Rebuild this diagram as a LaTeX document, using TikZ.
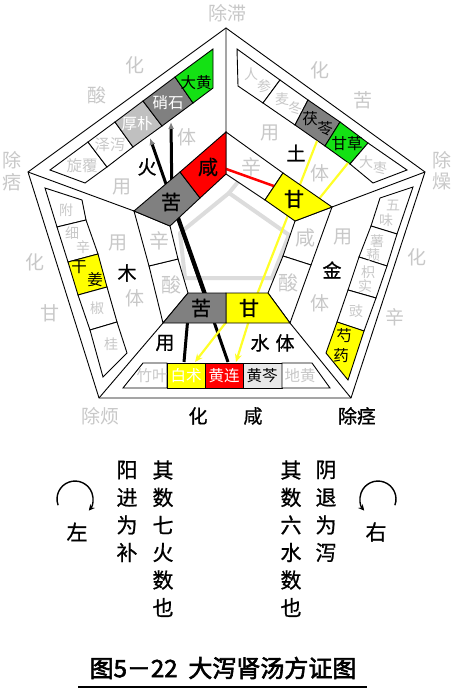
\documentclass[tikz,border=0pt]{standalone}
\usepackage{fontspec}
\setmainfont{Noto Sans CJK SC}
\newfontfamily\titlefont[FakeBold=2.5]{Noto Sans CJK SC}
\newfontfamily\medfont[FakeBold=0.8]{Noto Sans CJK SC}
\usetikzlibrary{arrows.meta}
\definecolor{ltext}{RGB}{200,200,200}
\definecolor{tgray}{RGB}{128,128,128}
\definecolor{tlgray}{RGB}{192,192,192}
\definecolor{tgreen}{RGB}{20,225,20}
\definecolor{tyellow}{RGB}{255,255,0}
\definecolor{tred}{RGB}{255,0,0}
\definecolor{tpale}{RGB}{232,232,232}
\definecolor{yline}{RGB}{255,255,40}
\definecolor{deco}{RGB}{220,220,220}
\newcommand\szL{\fontsize{19}{21}\selectfont}
\newcommand\szT{\fontsize{20}{22}\selectfont}
\newcommand\szH{\fontsize{15.5}{17}\selectfont}
\newcommand\szS{\fontsize{14}{15}\selectfont}
\newcommand\szB{\fontsize{21}{23}\selectfont}
\begin{document}
\begin{tikzpicture}[x=1pt,y=-1pt,
 ln/.style={draw=black,line width=0.9pt},
 blab/.style={inner sep=0pt,font=\medfont\szL,text=black},
 glab/.style={inner sep=0pt,font=\szL,text=ltext},
 tlab/.style={inner sep=0pt,font=\medfont\szT,text=black},
 tglab/.style={inner sep=0pt,font=\szT,text=ltext},
 hb/.style={inner sep=0pt,font=\szH,text=black},
 hg/.style={inner sep=0pt,font=\szH,text=ltext},
 hw/.style={inner sep=0pt,font=\szH,text=white},
 hs/.style={inner sep=0pt,font=\szS,text=ltext},
 hsb/.style={inner sep=0pt,font=\szH,text=black},
 bot/.style={inner sep=0pt,font=\medfont\szB,text=black},
 yl/.style={draw=yline,line width=2.2pt},
 bl/.style={draw=black,line width=3pt},
]
\fill[white] (0,0) rectangle (453,695);
\useasboundingbox (0,0) rectangle (453,695);

% pentagon points
\coordinate (T) at (226,28);  \coordinate (UL) at (28,172); \coordinate (UR) at (425,172);
\coordinate (LL) at (99,398); \coordinate (LR) at (351,398);
\coordinate (MT) at (226,132); \coordinate (ML) at (134,211); \coordinate (MR) at (332,207);
\coordinate (MLL) at (163,323); \coordinate (MLR) at (290,323);
\coordinate (NT) at (226,174); \coordinate (NL) at (170,226); \coordinate (NR) at (295,221);
\coordinate (NLL) at (188,293); \coordinate (NLR) at (268,293);
\coordinate (FbM) at (180,172); \coordinate (FbN) at (200,198);
\coordinate (EbM) at (283,173); \coordinate (EbN) at (265,200);
\coordinate (MbM) at (311,265); \coordinate (MbN) at (283,256);
\coordinate (WbM) at (226,323); \coordinate (WbN) at (226,293);
\coordinate (DbM) at (149,266); \coordinate (DbN) at (178,259);

% centre decoration
\draw[deco,line width=4pt,line join=round] (229,193)--(289,235)--(272,278)--(185,278)--(180,233)--cycle;
\draw[deco,line width=4pt] (229,193)--(246,172);

% outer frame
\draw[ln] (T)--(UR)--(LR)--(LL)--(UL)--cycle;
\draw[ln] (T)--(MT) (UL)--(ML) (UR)--(MR) (LL)--(MLL) (LR)--(MLR);

% fire strip
\coordinate (FO0) at (50,170); \coordinate (FO1) at (88,142); \coordinate (FO2) at (115,122);
\coordinate (FO3) at (143,101); \coordinate (FO4) at (175,77); \coordinate (FO5) at (213,49);
\coordinate (FI0) at (85,183); \coordinate (FI1) at (107,167); \coordinate (FI2) at (133,147);
\coordinate (FI3) at (162,126); \coordinate (FI4) at (193,103); \coordinate (FI5) at (213,88);
\foreach \i/\j/\c in {0/1/white,1/2/white,2/3/tlgray,3/4/tgray,4/5/tgreen}
  \filldraw[ln,fill=\c] (FO\i)--(FO\j)--(FI\j)--(FI\i)--cycle;
% earth strip
\coordinate (EO0) at (237,49); \coordinate (EO1) at (280,80); \coordinate (EO2) at (308,100);
\coordinate (EO3) at (340,122); \coordinate (EO4) at (368,143); \coordinate (EO5) at (407,170);
\coordinate (EI0) at (238,86); \coordinate (EI1) at (263,103); \coordinate (EI2) at (295,125);
\coordinate (EI3) at (325,146); \coordinate (EI4) at (350,164); \coordinate (EI5) at (373,183);
\foreach \i/\j/\c in {0/1/white,1/2/white,2/3/tgray,3/4/tgreen,4/5/white}
  \filldraw[ln,fill=\c] (EO\i)--(EO\j)--(EI\j)--(EI\i)--cycle;
% metal strip
\coordinate (MO0) at (413,187); \coordinate (MO1) at (397,234); \coordinate (MO2) at (387,266);
\coordinate (MO3) at (376,298); \coordinate (MO4) at (364,331); \coordinate (MO5) at (348,380);
\coordinate (MI0) at (380,198); \coordinate (MI1) at (371,226); \coordinate (MI2) at (359,257);
\coordinate (MI3) at (348,290); \coordinate (MI4) at (337,322); \coordinate (MI5) at (326,353);
\foreach \i/\j/\c in {0/1/white,1/2/white,2/3/white,3/4/white,4/5/tyellow}
  \filldraw[ln,fill=\c] (MO\i)--(MO\j)--(MI\j)--(MI\i)--cycle;
% water strip
\coordinate (WO0) at (123,388); \coordinate (WO1) at (167,388); \coordinate (WO2) at (205,388);
\coordinate (WO3) at (243,388); \coordinate (WO4) at (282,388); \coordinate (WO5) at (330,388);
\coordinate (WI0) at (143,363); \coordinate (WI1) at (167,363); \coordinate (WI2) at (205,363);
\coordinate (WI3) at (243,363); \coordinate (WI4) at (282,363); \coordinate (WI5) at (312,363);
\foreach \i/\j/\c in {0/1/white,1/2/tyellow,2/3/tred,3/4/tpale,4/5/white}
  \filldraw[ln,fill=\c] (WO\i)--(WO\j)--(WI\j)--(WI\i)--cycle;
% wood strip
\coordinate (DO0) at (45,188); \coordinate (DO1) at (57,227); \coordinate (DO2) at (68,262);
\coordinate (DO3) at (78,295); \coordinate (DO4) at (90,330); \coordinate (DO5) at (103,377);
\coordinate (DI0) at (82,200); \coordinate (DI1) at (86,220); \coordinate (DI2) at (98,254);
\coordinate (DI3) at (107,287); \coordinate (DI4) at (117,322); \coordinate (DI5) at (127,353);
\foreach \i/\j/\c in {0/1/white,1/2/white,2/3/tyellow,3/4/white,4/5/white}
  \filldraw[ln,fill=\c] (DO\i)--(DO\j)--(DI\j)--(DI\i)--cycle;

% band white cells
\filldraw[ln,fill=white] (MT)--(EbM)--(EbN)--(NT)--cycle;
\filldraw[ln,fill=white] (MR)--(MbM)--(MbN)--(NR)--cycle;
\filldraw[ln,fill=white] (MbM)--(MLR)--(NLR)--(MbN)--cycle;
\filldraw[ln,fill=white] (MLL)--(DbM)--(DbN)--(NLL)--cycle;
\filldraw[ln,fill=white] (DbM)--(ML)--(NL)--(DbN)--cycle;

% connectors
\coordinate (hpTip) at (150,138); \coordinate (hlTop) at (228,362);
\coordinate (mid1) at (177,215); \coordinate (mid2) at (207,300);
\coordinate (xsS) at (172,205); \coordinate (xsTip) at (171,122);
\coordinate (bzS) at (189,305); \coordinate (bzTop) at (184,362);
\coordinate (rS) at (215,165); \coordinate (rE) at (285,190);
\coordinate (flTip) at (317,141); \coordinate (wgC) at (251,310);
\coordinate (gcTip) at (348,163); \coordinate (egC) at (310,210);
\coordinate (y3s) at (245,298); \coordinate (y3t) at (195,362);
\coordinate (y4s) at (256,298); \coordinate (y4t) at (236,362);
\draw[bl,-{Latex[length=7pt,width=6pt,color=gray]}] (hlTop) -- (hpTip);
\draw[black,line width=4.2pt] (mid1) -- (mid2);
\draw[bl,-{Latex[length=7pt,width=6pt,color=gray]}] (xsS) -- (xsTip);
\draw[bl] (bzS) -- (bzTop);
\draw[draw=tred,line width=2.5pt] (rS) -- (rE);
\draw[yl] (flTip) -- (wgC);
\draw[yl] (gcTip) -- (egC);
\draw[yl,-{Stealth[length=8pt,width=7pt]}] (y3s) -- (y3t);
\draw[yl,-{Stealth[length=8pt,width=7pt]}] (y4s) -- (y4t);

% coloured band tiles
\filldraw[ln,fill=tgray] (ML)--(FbM)--(FbN)--(NL)--cycle;
\filldraw[ln,fill=tred] (FbM)--(MT)--(NT)--(FbN)--cycle;
\filldraw[ln,fill=tyellow] (EbM)--(MR)--(NR)--(EbN)--cycle;
\filldraw[ln,fill=tyellow] (MLR)--(WbM)--(WbN)--(NLR)--cycle;
\filldraw[ln,fill=tgray] (WbM)--(MLL)--(NLL)--(WbN)--cycle;

% band labels
\node[tlab] (bf1) at (171,202) {苦};
\node[tlab] (bf2) at (208,167) {咸};
\node[tglab] (be1) at (251,167) {辛};
\node[tlab] (be2) at (294,199) {甘};
\node[tglab] (bm1) at (305,238) {咸};
\node[tglab] (bm2) at (288,283) {酸};
\node[tlab] (bw1) at (201,308) {苦};
\node[tlab] (bw2) at (249,308) {甘};
\node[tglab] (bd1) at (159,241) {辛};
\node[tglab] (bd2) at (171,285) {酸};

% region labels
\node[blab] (rf) at (147,167) {火};
\node[glab] (rfu) at (122,187) {用};
\node[glab] (rft) at (187,137) {体};
\node[blab] (re) at (296,153) {土};
\node[glab] (reu) at (270,133) {用};
\node[glab] (ret) at (320,173) {体};
\node[blab] (rm) at (332,270) {金};
\node[glab] (rmu) at (343,237) {用};
\node[glab] (rmt) at (320,303) {体};
\node[blab] (rd) at (127,273) {木};
\node[glab] (rdu) at (118,243) {用};
\node[glab] (rdt) at (135,298) {体};
\node[blab] (rwu) at (165,343) {用};
\node[blab] (rw) at (260,343) {水};
\node[blab] (rwt) at (285,343) {体};

% outside labels
\node[glab] (o1) at (227,13) {除滞};
\node[glab] (o2) at (135,65) {化};
\node[glab] (o3) at (97,95) {酸};
\node[glab] (o4) at (320,70) {化};
\node[glab] (o5) at (363,100) {苦};
\node[glab] (o6a) at (12,160) {除};
\node[glab] (o6b) at (12,182) {痞};
\node[glab] (o7a) at (442,160) {除};
\node[glab] (o7b) at (442,181) {燥};
\node[glab] (o8) at (35,262) {化};
\node[glab] (o9) at (50,313) {甘};
\node[glab] (o10) at (417,257) {化};
\node[glab] (o11) at (395,317) {辛};
\node[glab] (o12) at (100,416) {除烦};
\node[blab] (o13) at (198,416) {化};
\node[blab] (o14) at (253,416) {咸};
\node[blab] (o15) at (357,416) {除痉};

% herbs: fire
\node[hg] (hf1) at (82,166) {旋覆};
\node[hg] (hf2) at (110,145) {泽泻};
\node[hw] (hf3) at (137,124) {厚朴};
\node[hw] (hf4) at (168,103) {硝石};
\node[hb] (hf5) at (196,83) {大黄};
% herbs: earth
\node[hs] (he1a) at (251,74) {人};
\node[hs] (he1b) at (264,86) {参};
\node[hs] (he2a) at (282,99) {麦};
\node[hs] (he2b) at (295,108) {冬};
\node[hsb] (he3a) at (310,119) {茯};
\node[hsb] (he3b) at (325,129) {苓};
\node[hb] (he4) at (347,144) {甘草};
\node[hs] (he5a) at (366,162) {大};
\node[hs] (he5b) at (380,168) {枣};
% herbs: metal
\node[hs] (hm1a) at (393,205) {五};
\node[hs] (hm1b) at (386,220) {味};
\node[hs] (hm2a) at (377,241) {薯};
\node[hs] (hm2b) at (373,255) {蓣};
\node[hs] (hm3a) at (368,272) {枳};
\node[hs] (hm3b) at (365,286) {实};
\node[hs] (hm4) at (356,311) {豉};
\node[hb] (hm5a) at (344,336) {芍};
\node[hb] (hm5b) at (341,356) {药};
% herbs: water
\node[hg] (hw1) at (152,376) {竹叶};
\node[hw] (hw2) at (186,376) {白术};
\node[hw] (hw3) at (224,376) {黄连};
\node[hb] (hw4) at (262,376) {黄芩};
\node[hg] (hw5) at (300,376) {地黄};
% herbs: wood
\node[hs] (hd1) at (66,210) {附};
\node[hs] (hd2a) at (72,233) {细};
\node[hs] (hd2b) at (83,247) {辛};
\node[hb] (hd3a) at (79,267) {干};
\node[hb] (hd3b) at (95,280) {姜};
\node[hs] (hd4) at (97,308) {椒};
\node[hs] (hd5) at (111,344) {桂};

% bottom columns
\foreach \c [count=\i] in {阳,进,为,补} \node[bot] (ca\i) at (127,442.5+27.5*\i) {\c};
\foreach \c [count=\i] in {其,数,七,火,数,也} \node[bot] (cb\i) at (163,442.5+27.5*\i) {\c};
\foreach \c [count=\i] in {其,数,六,水,数,也} \node[bot] (cc\i) at (291,442.5+27.5*\i) {\c};
\foreach \c [count=\i] in {阴,退,为,泻} \node[bot] (cd\i) at (326,442.5+27.5*\i) {\c};
\node[bot] (zuo) at (77,532) {左};
\node[bot] (you) at (376,532) {右};
\coordinate (arcLs) at (58.1,505.2);
\coordinate (arcRs) at (394.9,505.2);
\draw[line width=1.4pt,-{Stealth[length=6pt,width=6pt]}] (arcLs) arc[start angle=160,end angle=400,radius=18];
\draw[line width=1.4pt,-{Stealth[length=6pt,width=6pt]}] (arcRs) arc[start angle=20,end angle=-220,radius=18];

% title
\node[inner sep=0pt] (title) at (223,668) {\titlefont\fontsize{24}{26}\selectfont 图5－22\hspace{0.45em}大泻肾汤方证图};
\coordinate (ul1) at (78,687); \coordinate (ul2) at (367,687);
\draw[line width=2.5pt] (ul1) -- (ul2);
\end{tikzpicture}
\end{document}
